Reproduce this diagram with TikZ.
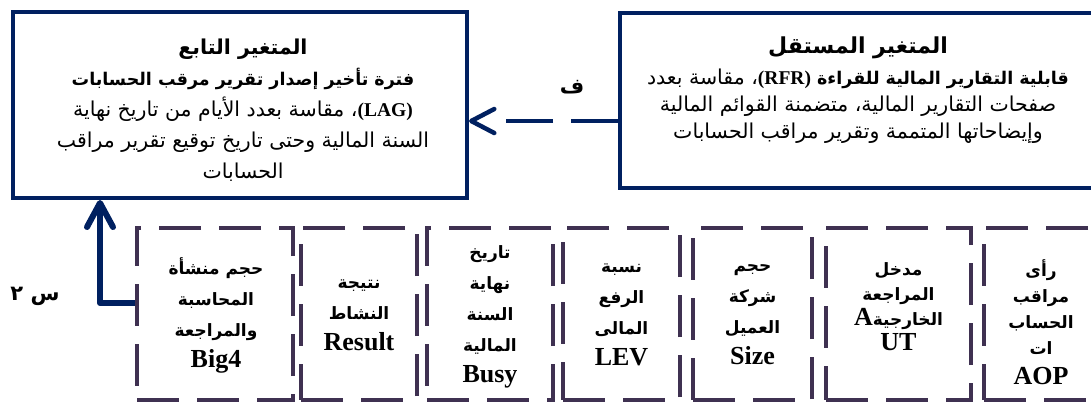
\documentclass[tikz,border=0pt]{standalone}
\usepackage{fontspec}
\setmainfont{Liberation Serif}
\newfontfamily\ar[Script=Arabic]{DejaVu Sans}
\newfontfamily\lt{Liberation Serif}
\TeXXeTstate=1
\usetikzlibrary{arrows.meta}
\definecolor{navy}{HTML}{002060}
\definecolor{dpurple}{HTML}{3F3151}
\newcommand\AR[1]{{\ar\beginR #1\endR}}
\newcommand\LT[1]{\beginL{\lt\bfseries\fontsize{19.5}{31}\selectfont #1}\endL}
\newcommand\LTB[1]{{\lt\bfseries\fontsize{26}{31}\selectfont #1}}
\newcommand\TB{\bfseries\fontsize{17.5}{31}\selectfont}
\begin{document}
\begin{tikzpicture}[x=1pt,y=-1pt,
  topbox/.style={draw=navy, line width=4pt, rectangle, inner sep=0pt},
  dbox/.style={draw=dpurple, line width=4.5pt, rectangle, inner sep=0pt,
     dash pattern=on 42pt off 18pt, minimum height=172pt},
  toptext/.style={align=center, inner sep=0pt, font=\ar\fontsize{20.5}{31}\selectfont},
  btext/.style={align=center, inner sep=0pt, font=\ar\bfseries\fontsize{17}{31}\selectfont},
  lab/.style={inner sep=0pt, font=\ar\bfseries\fontsize{21}{24}\selectfont},
  conn/.style={draw=navy, line join=round}
]
\clip (0,0) rectangle (1091,402);
\fill[white] (0,0) rectangle (1091,402);

% top boxes
\node[topbox, minimum width=454pt, minimum height=186pt] (L) at (240,105) {};
\node[topbox, minimum width=480pt, minimum height=175pt] (R) at (860,100.5) {};

\node[toptext] (Lt) at (243,110) {%
  \AR{\bfseries\fontsize{20.5}{31}\selectfont المتغير التابع}\\
  \AR{\TB فترة تأخير إصدار تقرير مرقب الحسابات}\\
  \AR{\LT{(LAG)}، مقاسة  بعدد الأيام من تاريخ نهاية}\\
  \AR{السنة المالية وحتى تاريخ توقيع تقرير مراقب}\\
  \AR{الحسابات}};

\node[toptext, font=\ar\fontsize{20.5}{27}\selectfont] (Rt) at (858,90.5) {%
  \AR{\bfseries\fontsize{22}{27}\selectfont المتغير المستقل}\\[4pt]
  \AR{{\TB قابلية التقارير المالية للقراءة \LT{(RFR)}}، مقاسة بعدد}\\
  \AR{صفحات التقارير المالية، متضمنة القوائم المالية}\\
  \AR{وإيضاحاتها المتممة وتقرير مراقب الحسابات}};

% bottom dashed boxes
\node[dbox, minimum width=156pt] (b1) at (215,314) {};
\node[dbox, minimum width=116pt] (b2) at (359,314) {};
\node[dbox, minimum width=126pt] (b3) at (490,314) {};
\node[dbox, minimum width=117pt] (b4) at (621.5,314) {};
\node[dbox, minimum width=119pt] (b5) at (752.5,314) {};
\node[dbox, minimum width=145pt] (b6) at (898.5,314) {};
\node[dbox, minimum width=116pt] (b7) at (1042,314) {};

\node[btext] (t1) at (216,315) {\AR{حجم منشأة}\\ \AR{المحاسبة}\\ \AR{والمراجعة}\\ \LTB{Big4}};
\node[btext] (t2) at (359,315) {\AR{نتيجة}\\ \AR{النشاط}\\ \LTB{Result}};
\node[btext] (t3) at (490,317) {\AR{تاريخ}\\ \AR{نهاية}\\ \AR{السنة}\\ \AR{المالية}\\ \LTB{Busy}};
\node[btext] (t4) at (621.5,315) {\AR{نسبة}\\ \AR{الرفع}\\ \AR{المالى}\\ \LTB{LEV}};
\node[btext] (t5) at (752.5,315) {\AR{حجم}\\ \AR{شركة}\\ \AR{العميل}\\ \LTB{Size}};
\node[btext, font=\ar\bfseries\fontsize{17}{25}\selectfont] (t6) at (898.5,307) {\AR{مدخل}\\ \AR{المراجعة}\\ \AR{الخارجية\beginL{\lt\bfseries\fontsize{26}{25}\selectfont A}\endL}\\ {\lt\bfseries\fontsize{26}{25}\selectfont UT}};
\node[btext, font=\ar\bfseries\fontsize{17}{26}\selectfont] (t7) at (1041,322) {\AR{رأى}\\ \AR{مراقب}\\ \AR{الحساب}\\ \AR{ات}\\[4pt] {\lt\bfseries\fontsize{26}{26}\selectfont AOP}};

% labels
\node[lab] (f) at (572,87) {\AR{ف}};
\node[lab] (s2) at (35,296) {\AR{س ٢}};

% connectors
\draw[conn, line width=4.5pt, dash pattern=on 47pt off 18pt on 47pt off 80pt,
  -{Straight Barb[length=23pt,width=24pt,round]}]
  ([yshift=-20.5pt]R.west) -- ([yshift=-16pt]L.east);
\draw[conn, line width=6pt,
  -{Straight Barb[length=24pt,width=26pt,round]}]
  ([yshift=11pt]b1.west) -| ([xshift=-140pt]L.south);
\end{tikzpicture}
\end{document}
